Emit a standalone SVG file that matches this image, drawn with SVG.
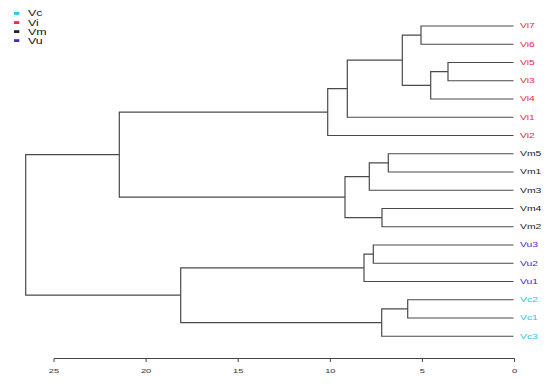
<svg xmlns="http://www.w3.org/2000/svg" width="550" height="387" viewBox="0 0 550 387">
<style>
text{font-family:"Liberation Sans",Arial,sans-serif;}
.lbl{font-size:6.9px;}
.leg{font-size:8.3px;fill:#111;}
.ax{font-size:6.2px;fill:#333;text-anchor:middle;}
.vi{fill:#f0284a;}
.vm{fill:#222;}
.vu{fill:#4a22e0;}
.vc{fill:#1ec8ee;}
.br{fill:none;stroke:#4a4a4a;stroke-width:1.2;}
.axl{fill:none;stroke:#444;stroke-width:1;}
</style>
<rect width="550" height="387" fill="#fff"/>
<g id="legend">
<rect x="14" y="12" width="5.3" height="2.8" class="vc"/>
<text class="leg" transform="translate(28,16.3) scale(1.5,1)">Vc</text>
<rect x="14" y="21.2" width="5.3" height="2.8" class="vi"/>
<text class="leg" transform="translate(28,25.5) scale(1.5,1)">Vi</text>
<rect x="14" y="30.2" width="5.3" height="2.8" class="vm"/>
<text class="leg" transform="translate(28,34.5) scale(1.5,1)">Vm</text>
<rect x="14" y="39.2" width="5.3" height="2.8" class="vu"/>
<text class="leg" transform="translate(28,43.5) scale(1.5,1)">Vu</text>
</g>
<g id="connectors">
<path class="br" d="M513.5 26 H421 V44.25 H513.5"/>
<path class="br" d="M513.5 62.5 H448 V80.75 H513.5"/>
<path class="br" d="M448 71.6 H430.7 V99 H513.5"/>
<path class="br" d="M421 35.1 H402.3 V85.3 H430.7"/>
<path class="br" d="M402.3 60.2 H347.3 V117.25 H513.5"/>
<path class="br" d="M347.3 88.7 H327.7 V135.5 H513.5"/>
<path class="br" d="M513.5 153.75 H388.3 V172 H513.5"/>
<path class="br" d="M388.3 162.9 H369.3 V190.25 H513.5"/>
<path class="br" d="M513.5 208.5 H382 V226.75 H513.5"/>
<path class="br" d="M369.3 176.6 H345 V217.6 H382"/>
<path class="br" d="M327.7 112.1 H119.3 V197.1 H345"/>
<path class="br" d="M513.5 245 H373.3 V263.25 H513.5"/>
<path class="br" d="M373.3 254.1 H364 V281.5 H513.5"/>
<path class="br" d="M513.5 299.75 H407.7 V318 H513.5"/>
<path class="br" d="M407.7 308.9 H381.7 V336.25 H513.5"/>
<path class="br" d="M364 267.8 H180.7 V322.6 H381.7"/>
<path class="br" d="M119.3 154.6 H25.7 V295.2 H180.7"/>
</g>
<g id="leaves">
<g id="Vi7"><text class="lbl vi" transform="translate(520,28.4) scale(1.5,1)">Vi7</text></g>
<g id="Vi6"><text class="lbl vi" transform="translate(520,46.65) scale(1.5,1)">Vi6</text></g>
<g id="Vi5"><text class="lbl vi" transform="translate(520,64.9) scale(1.5,1)">Vi5</text></g>
<g id="Vi3"><text class="lbl vi" transform="translate(520,83.15) scale(1.5,1)">Vi3</text></g>
<g id="Vi4"><text class="lbl vi" transform="translate(520,101.4) scale(1.5,1)">Vi4</text></g>
<g id="Vi1"><text class="lbl vi" transform="translate(520,119.65) scale(1.5,1)">Vi1</text></g>
<g id="Vi2"><text class="lbl vi" transform="translate(520,137.9) scale(1.5,1)">Vi2</text></g>
<g id="Vm5"><text class="lbl vm" transform="translate(520,156.15) scale(1.5,1)">Vm5</text></g>
<g id="Vm1"><text class="lbl vm" transform="translate(520,174.4) scale(1.5,1)">Vm1</text></g>
<g id="Vm3"><text class="lbl vm" transform="translate(520,192.65) scale(1.5,1)">Vm3</text></g>
<g id="Vm4"><text class="lbl vm" transform="translate(520,210.9) scale(1.5,1)">Vm4</text></g>
<g id="Vm2"><text class="lbl vm" transform="translate(520,229.15) scale(1.5,1)">Vm2</text></g>
<g id="Vu3"><text class="lbl vu" transform="translate(520,247.4) scale(1.5,1)">Vu3</text></g>
<g id="Vu2"><text class="lbl vu" transform="translate(520,265.65) scale(1.5,1)">Vu2</text></g>
<g id="Vu1"><text class="lbl vu" transform="translate(520,283.9) scale(1.5,1)">Vu1</text></g>
<g id="Vc2"><text class="lbl vc" transform="translate(520,302.15) scale(1.5,1)">Vc2</text></g>
<g id="Vc1"><text class="lbl vc" transform="translate(520,320.4) scale(1.5,1)">Vc1</text></g>
<g id="Vc3"><text class="lbl vc" transform="translate(520,338.65) scale(1.5,1)">Vc3</text></g>
</g>
<g id="axis">
<path class="axl" d="M54 362 V358.5 H514.5 V362 M146.1 358.5 V362 M238.2 358.5 V362 M330.3 358.5 V362 M422.4 358.5 V362"/>
<text class="ax" transform="translate(54,372.5) scale(1.5,1)">25</text>
<text class="ax" transform="translate(146.1,372.5) scale(1.5,1)">20</text>
<text class="ax" transform="translate(238.2,372.5) scale(1.5,1)">15</text>
<text class="ax" transform="translate(330.3,372.5) scale(1.5,1)">10</text>
<text class="ax" transform="translate(422.4,372.5) scale(1.5,1)">5</text>
<text class="ax" transform="translate(514.5,372.5) scale(1.5,1)">0</text>
</g>
</svg>
